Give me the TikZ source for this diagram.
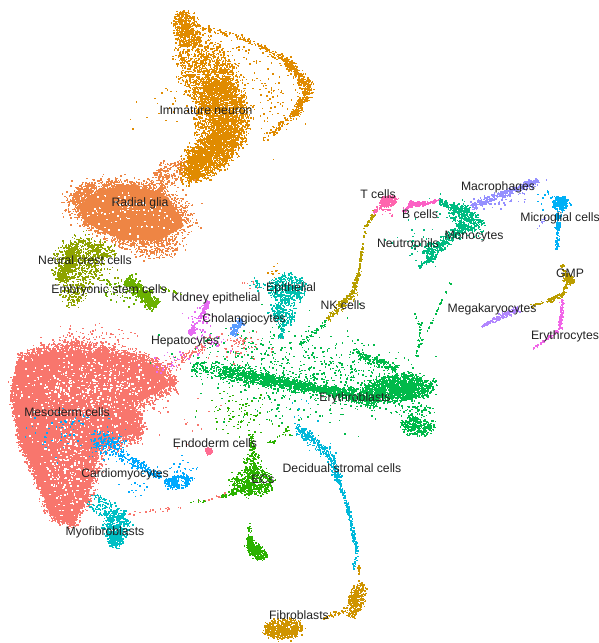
\documentclass[tikz,border=0pt]{standalone}
\usepackage{fontspec}
\setmainfont{Liberation Sans}
\definecolor{cNeuron}{HTML}{E08B00}
\definecolor{cGlia}{HTML}{EE8544}
\definecolor{cCrest}{HTML}{8EA300}
\definecolor{cStem}{HTML}{6BB100}
\definecolor{cMeso}{HTML}{F8766D}
\definecolor{cCardio}{HTML}{00A9FF}
\definecolor{cMyo}{HTML}{00BFC4}
\definecolor{cEndo}{HTML}{FF6C91}
\definecolor{cEC}{HTML}{2BB200}
\definecolor{cDecid}{HTML}{00B8DA}
\definecolor{cFibro}{HTML}{CF9400}
\definecolor{cEry}{HTML}{00BA4A}
\definecolor{cEpi}{HTML}{00C0AF}
\definecolor{cKid}{HTML}{E76BF3}
\definecolor{cChol}{HTML}{5A9CFF}
\definecolor{cNK}{HTML}{B79F00}
\definecolor{cT}{HTML}{FF65AE}
\definecolor{cB}{HTML}{FC61C5}
\definecolor{cMono}{HTML}{00BC82}
\definecolor{cMac}{HTML}{9590FF}
\definecolor{cMicro}{HTML}{00B0F6}
\definecolor{cGMP}{HTML}{BB9D00}
\definecolor{cMega}{HTML}{B186FF}
\definecolor{cEryc}{HTML}{F166E8}
\definecolor{cLabel}{HTML}{222222}
\tikzset{lab/.style={font=\fontsize{12.2}{14}\selectfont,text=cLabel,inner sep=0pt}}
% ---- random dot machinery (coordinates in reference pixels, y down)
\newcount\ci \newcount\cX \newcount\cY \newcount\cU \newcount\cV \newcount\cR \newcount\cS \newcount\cT \newcount\cW
\newcount\cA \newcount\cB \newcount\cC
\newdimen\dA \newdimen\dB \newdimen\dC \newdimen\dD
\def\dotsz{1.5pt}
\ci=0
\loop\ifnum\ci<360
  \pgfmathsetcount\cA{round(10000*cos(\the\ci))}
  \pgfmathsetcount\cB{round(10000*sin(\the\ci))}
  \expandafter\xdef\csname tc\the\ci\endcsname{\the\cA}
  \expandafter\xdef\csname ts\the\ci\endcsname{\the\cB}
  \advance\ci by 1
\repeat
\ci=0
\loop\ifnum\ci<256
  \pgfmathsetcount\cA{round(10000*pow((\the\ci+.5)/256,.6))}
  \expandafter\xdef\csname tr\the\ci\endcsname{\the\cA}
  \advance\ci by 1
\repeat
\def\putdot{\pgfpathrectangle{\pgfqpoint{\the\cX sp}{\the\numexpr-\cY\relax sp}}{\pgfqpoint{\dotsz}{\dotsz}}\pgfusepathqfill}
\newcommand\col[1]{\pgfsetfillcolor{#1}}
\newcommand\setrot[1]{\pgfmathsetcount\cR{round(10000*cos(#1))}\pgfmathsetcount\cS{round(10000*sin(#1))}}
% soft-edged ellipse: n cx cy rx ry rot
\newcommand\cloud[6]{\setrot{#6}\dA=#4pt \dB=#5pt \dC=#2pt \dD=#3pt \ci=0
  \loop\ifnum\ci<#1
    \cA=\uniformdeviate 360
    \cB=\uniformdeviate 256
    \cC=\csname tr\the\cB\endcsname\relax
    \cU=\numexpr\cC*\csname tc\the\cA\endcsname/10000*\dA/10000+\normaldeviate*\dA/500000\relax
    \cV=\numexpr\cC*\csname ts\the\cA\endcsname/10000*\dB/10000+\normaldeviate*\dB/500000\relax
    \cX=\numexpr\dC+\cU*\cR/10000-\cV*\cS/10000\relax
    \cY=\numexpr\dD+\cU*\cS/10000+\cV*\cR/10000\relax
    \putdot
    \advance\ci by 1
  \repeat}
% gaussian ellipse: n cx cy sx sy rot
\newcommand\gauss[6]{\setrot{#6}\dA=#4pt \dB=#5pt \dC=#2pt \dD=#3pt \ci=0
  \loop\ifnum\ci<#1
    \cU=\numexpr\normaldeviate*\dA/65536\relax
    \cV=\numexpr\normaldeviate*\dB/65536\relax
    \cX=\numexpr\dC+\cU*\cR/10000-\cV*\cS/10000\relax
    \cY=\numexpr\dD+\cU*\cS/10000+\cV*\cR/10000\relax
    \putdot
    \advance\ci by 1
  \repeat}
% strand: n x1 y1 x2 y2 w1 w2
\newcommand\strand[7]{\pgfmathsetcount\cR{round(-(#5-#3)/max(veclen(#4-#2,#5-#3),.01)*10000)}%
  \pgfmathsetcount\cS{round((#4-#2)/max(veclen(#4-#2,#5-#3),.01)*10000)}%
  \dA=#2pt \dB=#3pt \dC=#4pt \dD=#5pt \ci=0
  \edef\wA{\number\dimexpr#6pt*3/4\relax}\edef\wB{\number\dimexpr#7pt*3/4\relax}%
  \loop\ifnum\ci<#1
    \cT=\uniformdeviate 10000
    \cW=\numexpr\wA+(\wB-\wA)*\cT/10000\relax
    \cU=\numexpr\normaldeviate*\cW/65536\relax
    \cX=\numexpr\dA+(\dC-\dA)*\cT/10000+\cU*\cR/10000\relax
    \cY=\numexpr\dB+(\dD-\dB)*\cT/10000+\cU*\cS/10000\relax
    \putdot
    \advance\ci by 1
  \repeat}
\begin{document}
\begin{tikzpicture}[x=1pt,y=-1pt]
\setrandomseed 4242
\useasboundingbox (0,0) rectangle (599,643);
\fill[white] (0,0) rectangle (599,643);
\begin{scope}
\clip (0,0) rectangle (599,643);
% -------- Immature neuron
\col{cNeuron}
\cloud{520}{186}{30}{19}{12}{72}
\cloud{1300}{207}{75}{42}{26}{62}
\cloud{2000}{222}{118}{38}{25}{88}
\cloud{1400}{208}{157}{34}{18}{-42}
\strand{300}{188}{178}{205}{150}{6}{8}
\gauss{70}{195}{100}{14}{25}{75}
\strand{55}{196}{27}{240}{38}{2}{2}
\strand{90}{240}{38}{283}{60}{2}{3}
\strand{260}{283}{60}{309}{88}{3}{4}
\strand{230}{309}{88}{293}{117}{4}{3}
\strand{70}{293}{117}{262}{140}{3}{2}
\gauss{90}{272}{95}{13}{18}{0}
\gauss{45}{232}{60}{13}{12}{0}
% -------- Radial glia
\col{cGlia}
\fill[cGlia] (78,206) -- (100,190) -- (135,184) -- (168,197) -- (184,226) -- (160,240) -- (120,240) -- (85,222) -- cycle;
\cloud{3600}{128}{212}{56}{29}{10}
\cloud{260}{164}{178}{25}{12}{-40}
\cloud{420}{148}{243}{33}{15}{10}
\strand{170}{72}{205}{90}{185}{4}{4}
\gauss{50}{185}{215}{7}{14}{0}
% -------- Neural crest
\col{cCrest}
\cloud{600}{78}{265}{24}{28}{15}
\strand{420}{59}{281}{76}{250}{4}{5}
\cloud{140}{100}{250}{15}{9}{10}
\cloud{130}{72}{296}{13}{12}{0}
\gauss{25}{105}{280}{12}{10}{0}
% -------- Embryonic stem
\col{cStem}
\strand{620}{126}{280}{156}{307}{4}{4.5}
\gauss{60}{120}{292}{12}{6}{20}
\strand{25}{158}{288}{182}{296}{1}{1}
% -------- Mesoderm
\col{cMeso}
\fill[cMeso] (18,362) -- (40,352) -- (80,350) -- (125,355) -- (155,365) -- (170,385) -- (135,405) -- (138,432) -- (100,445) -- (88,498) -- (72,525) -- (50,515) -- (35,470) -- (20,440) -- (14,395) -- cycle;
\strand{200}{18}{362}{40}{352}{4}{4}
\strand{300}{40}{352}{80}{347}{5}{5}
\strand{300}{80}{347}{127}{355}{5}{5}
\strand{200}{127}{355}{157}{365}{4}{4}
\strand{220}{157}{365}{174}{386}{4}{4}
\strand{200}{174}{386}{134}{408}{5}{5}
\strand{180}{134}{408}{140}{436}{4}{4}
\strand{200}{140}{436}{100}{447}{5}{5}
\strand{180}{100}{447}{88}{498}{5}{5}
\strand{130}{88}{498}{72}{526}{3}{3}
\strand{130}{72}{526}{50}{516}{3}{3}
\strand{200}{50}{516}{33}{470}{3}{3}
\strand{200}{33}{470}{20}{440}{3}{3}
\strand{240}{20}{440}{12}{395}{2}{2}
\strand{220}{12}{395}{18}{362}{2}{2}
\gauss{80}{85}{338}{22}{6}{0}
\strand{90}{158}{372}{205}{347}{5}{3}
\gauss{60}{235}{347}{20}{8}{0}
\gauss{45}{140}{405}{12}{14}{0}
\strand{22}{128}{516}{172}{510}{1.5}{1.5}
\strand{14}{172}{510}{228}{494}{1.5}{1.5}
\gauss{12}{200}{425}{15}{15}{0}
\col{white}
\gauss{520}{78}{392}{34}{26}{0}
\gauss{240}{68}{472}{14}{24}{0}
\gauss{110}{120}{385}{20}{14}{0}
\gauss{130}{130}{212}{30}{13}{12}
% -------- Cardiomyocytes
\col{cCardio}
\gauss{70}{75}{432}{22}{12}{0}
\cloud{160}{108}{445}{17}{12}{10}
\strand{170}{118}{454}{160}{478}{4}{3}
\cloud{260}{179}{483}{13}{6.5}{-12}
\strand{130}{164}{482}{188}{480}{1.5}{1.5}
\gauss{25}{183}{470}{7}{5}{0}
\gauss{14}{135}{490}{10}{5}{0}
\col{white}
\cloud{18}{181}{482}{5}{3}{0}
% -------- Myofibroblasts
\col{cMyo}
\cloud{120}{103}{508}{17}{10}{30}
\cloud{380}{116}{526}{13}{15}{-5}
\cloud{170}{115}{541}{8}{8}{0}
% -------- Endoderm
\col{cEndo}
\cloud{60}{208}{452}{3.5}{3.5}{0}
% -------- ECs
\col{cEC}
\cloud{450}{253}{483}{20}{13}{0}
\cloud{110}{252}{465}{9}{10}{0}
\strand{90}{250}{485}{230}{495}{5}{2}
\strand{50}{252}{456}{250}{435}{2}{2}
\strand{16}{232}{494}{220}{498}{1.5}{1.5}
\strand{8}{190}{503}{205}{502}{1}{1}
\strand{16}{248}{522}{250}{540}{.8}{2}
\cloud{260}{256}{552}{11}{7}{40}
\strand{140}{248}{538}{252}{552}{1.5}{3}
\gauss{90}{240}{415}{16}{11}{0}
\strand{22}{292}{427}{268}{446}{1.5}{1.5}
% -------- Erythroblasts
\col{cEry}
\gauss{420}{295}{378}{45}{24}{5}
\gauss{120}{355}{375}{30}{12}{0}
\gauss{120}{250}{352}{35}{12}{0}
\strand{1100}{222}{372}{318}{390}{6}{3}
\strand{110}{190}{370}{222}{372}{5}{6}
\strand{650}{318}{390}{378}{400}{2}{8}
\cloud{1500}{398}{389}{33}{13}{-4}
\strand{170}{350}{352}{397}{370}{3}{4}
\gauss{70}{410}{410}{12}{5}{0}
\cloud{320}{416}{427}{16}{9}{10}
\strand{24}{416}{360}{420}{322}{1}{1.5}
\strand{32}{418}{350}{450}{283}{.4}{.4}
\gauss{10}{418}{326}{2}{6}{0}
\strand{50}{300}{345}{327}{322}{2}{1.2}
% -------- Decidual stromal
\col{cDecid}
\strand{220}{295}{428}{330}{455}{4}{4}
\strand{140}{330}{455}{338}{482}{3.5}{2}
\strand{110}{338}{482}{349}{515}{1.4}{1.4}
\strand{120}{349}{515}{356}{553}{1.2}{1.4}
\strand{22}{356}{553}{353}{570}{1}{.8}
\gauss{12}{300}{412}{8}{8}{0}
% -------- Fibroblasts
\col{cFibro}
\cloud{340}{356}{600}{17}{8}{-72}
\strand{20}{358}{575}{358}{566}{.8}{.8}
\strand{40}{345}{611}{322}{619}{2}{1.2}
\cloud{480}{283}{630}{19}{10}{-5}
\cloud{60}{270}{628}{8}{10}{0}
% -------- Epithelial
\col{cEpi}
\cloud{430}{287}{290}{18}{14}{0}
\cloud{200}{283}{314}{13}{12}{0}
\strand{40}{283}{325}{280}{340}{2.5}{1.5}
\gauss{30}{260}{284}{6}{3}{0}
\col{cNeuron}
\gauss{12}{274}{272}{3}{4}{0}
\col{cMeso}
\gauss{8}{250}{286}{5}{2}{0}
% -------- Kidney / hepatocytes
\col{cKid}
\strand{80}{207}{302}{201}{318}{2}{2}
\strand{70}{194}{327}{189}{336}{2}{2}
\gauss{50}{197}{322}{7}{9}{0}
\gauss{35}{170}{362}{14}{5}{-20}
\gauss{26}{213}{343}{9}{6}{0}
% -------- Cholangiocytes
\col{cChol}
\strand{130}{241}{320}{231}{336}{2.5}{3}
\col{cMeso}
\gauss{22}{238}{341}{4}{2}{0}
% -------- NK
\col{cNK}
\strand{55}{375}{212}{365}{228}{1.2}{1.2}
\strand{10}{365}{228}{362}{247}{.8}{.8}
\strand{50}{362}{247}{358}{274}{.7}{1}
\strand{90}{358}{274}{352}{295}{1}{2.5}
\strand{150}{352}{295}{327}{320}{2.5}{2}
% -------- T / B
\col{cT}
\cloud{220}{388}{202}{8}{5}{0}
\gauss{20}{386}{210}{4}{3}{0}
\strand{30}{373}{214}{382}{205}{1.2}{1.5}
\col{cB}
\strand{170}{408}{205}{428}{204}{2}{1.5}
\strand{24}{402}{213}{410}{206}{1.5}{1.5}
\strand{20}{428}{204}{440}{201}{1}{1}
% -------- Monocytes / Neutrophils
\col{cMono}
\strand{110}{438}{202}{468}{214}{2}{3}
\cloud{340}{466}{220}{19}{11}{38}
\strand{320}{465}{226}{425}{258}{3}{5}
\strand{60}{418}{267}{436}{257}{1.2}{1.2}
\gauss{55}{420}{245}{13}{9}{0}
\gauss{25}{450}{208}{11}{5}{0}
% -------- Macrophages
\col{cMac}
\strand{340}{470}{207}{538}{181}{3}{1.8}
\gauss{50}{510}{197}{14}{4}{-22}
% -------- Microglial
\col{cMicro}
\cloud{260}{560}{204}{8}{7}{0}
\strand{120}{558}{212}{556}{250}{2}{1.2}
\gauss{14}{545}{200}{6}{5}{0}
\col{cMac}
\strand{12}{537}{230}{545}{218}{.8}{.8}
% -------- GMP
\col{cGMP}
\cloud{120}{568}{280}{6}{5}{20}
\strand{30}{561}{266}{566}{278}{.8}{1.5}
\strand{30}{565}{285}{561}{298}{1.2}{1.2}
\strand{60}{561}{295}{548}{302}{2}{1.5}
\strand{22}{548}{302}{530}{307}{1.2}{1.2}
% -------- Megakaryocytes
\col{cMega}
\strand{180}{481}{327}{518}{309}{.7}{2.5}
% -------- Erythrocytes
\col{cEryc}
\strand{110}{562}{300}{559}{330}{1.2}{1.4}
\strand{70}{559}{330}{532}{350}{1.2}{.5}
\end{scope}
% -------- Labels
\node[lab] (immature) at (206,110) {Immature neuron};
\node[lab] (glia) at (140,203) {Radial glia};
\node[lab] (crest) at (85,260) {Neural crest cells};
\node[lab] (stem) at (109,290) {Embryonic stem cells};
\node[lab] (kidney) at (216,298) {Kidney epithelial};
\node[lab] (epi) at (291,288) {Epithelial};
\node[lab] (chol) at (244,319) {Cholangiocytes};
\node[lab] (hep) at (185,342) {Hepatocytes};
\node[lab] (nk) at (343,305) {NK cells};
\node[lab] (tc) at (378,194) {T cells};
\node[lab] (bc) at (420,214) {B cells};
\node[lab] (mac) at (498,187) {Macrophages};
\node[lab] (micro) at (560,218) {Microglial cells};
\node[lab] (mono) at (474,237) {Monocytes};
\node[lab] (neut) at (408,244) {Neutrophils};
\node[lab] (gmp) at (570,273) {GMP};
\node[lab] (mega) at (492,309) {Megakaryocytes};
\node[lab] (eryc) at (565,336) {Erythrocytes};
\node[lab] (meso) at (67,412) {Mesoderm cells};
\node[lab] (eryb) at (355,398) {Erythroblasts};
\node[lab] (endo) at (215,443) {Endoderm cells};
\node[lab] (card) at (125,474) {Cardiomyocytes};
\node[lab] (decid) at (342,468) {Decidual stromal cells};
\node[lab] (ecs) at (263,479) {ECs};
\node[lab] (myo) at (105,532) {Myofibroblasts};
\node[lab] (fib) at (299,615) {Fibroblasts};
\end{tikzpicture}
\end{document}
